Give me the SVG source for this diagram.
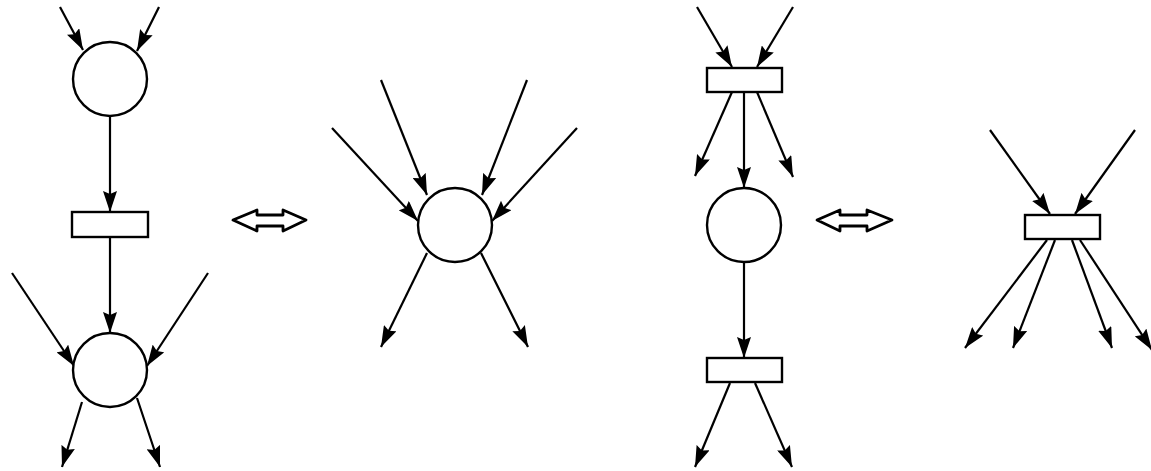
<svg xmlns="http://www.w3.org/2000/svg" width="1151" height="471" viewBox="0 0 1151 471">
<style>
.node{fill:#fff;stroke:#000;stroke-width:2.4}
.edge{stroke:#000;stroke-width:2.2;fill:none;marker-end:url(#ah)}
.dbl{fill:#fff;stroke:#000;stroke-width:2.8;stroke-linejoin:round}
</style>
<defs>
<marker id="ah" markerUnits="userSpaceOnUse" markerWidth="21" markerHeight="14" refX="21" refY="7" orient="auto">
<path d="M0,0 L21,7 L0,14 L3,7 Z" fill="#000"/>
</marker>
</defs>
<rect width="1151" height="471" fill="#fff"/>
<g id="connectors">
<line class="edge" x1="60" y1="7" x2="83" y2="50"/>
<line class="edge" x1="159" y1="7" x2="137" y2="51"/>
<line class="edge" x1="110" y1="116" x2="110" y2="212"/>
<line class="edge" x1="110" y1="237" x2="110" y2="333"/>
<line class="edge" x1="12" y1="273" x2="74" y2="366"/>
<line class="edge" x1="208" y1="273" x2="147" y2="366"/>
<line class="edge" x1="82" y1="402" x2="62" y2="467"/>
<line class="edge" x1="137" y1="398" x2="160" y2="467"/>
<line class="edge" x1="332" y1="128" x2="418" y2="221"/>
<line class="edge" x1="381" y1="80" x2="427" y2="195"/>
<line class="edge" x1="527" y1="80" x2="482" y2="195"/>
<line class="edge" x1="577" y1="128" x2="492" y2="221"/>
<line class="edge" x1="427" y1="253" x2="381" y2="347"/>
<line class="edge" x1="481" y1="253" x2="528" y2="347"/>
<line class="edge" x1="697" y1="7" x2="732" y2="67"/>
<line class="edge" x1="793" y1="7" x2="757" y2="67"/>
<line class="edge" x1="732" y1="92" x2="695" y2="176"/>
<line class="edge" x1="744" y1="92" x2="744" y2="188"/>
<line class="edge" x1="757" y1="92" x2="793" y2="177"/>
<line class="edge" x1="744" y1="262" x2="744" y2="358"/>
<line class="edge" x1="730" y1="383" x2="695" y2="467"/>
<line class="edge" x1="755" y1="383" x2="792" y2="467"/>
<line class="edge" x1="990" y1="130" x2="1050" y2="214"/>
<line class="edge" x1="1135" y1="130" x2="1075" y2="214"/>
<line class="edge" x1="1047" y1="240" x2="965" y2="348"/>
<line class="edge" x1="1055" y1="240" x2="1013" y2="348"/>
<line class="edge" x1="1072" y1="240" x2="1112" y2="348"/>
<line class="edge" x1="1080" y1="240" x2="1152" y2="350"/>
</g>
<g id="p1"><circle class="node" cx="110" cy="79" r="37"/></g>
<g id="t1"><rect class="node" x="72" y="212" width="76" height="25"/></g>
<g id="p2"><circle class="node" cx="110" cy="370" r="37"/></g>
<g id="eq1"><polygon class="dbl" points="233,220 257,210 257,215 283,215 283,210 306,220 283,231 283,226 257,226 257,231"/></g>
<g id="p3"><circle class="node" cx="455" cy="225" r="37"/></g>
<g id="t2"><rect class="node" x="707" y="68" width="75" height="24"/></g>
<g id="p4"><circle class="node" cx="744" cy="225" r="37"/></g>
<g id="t3"><rect class="node" x="707" y="358" width="75" height="24"/></g>
<g id="eq2"><polygon class="dbl" points="817,220 840,210 840,215 867,215 867,210 892,220 867,231 867,226 840,226 840,231"/></g>
<g id="t4"><rect class="node" x="1025" y="215" width="75" height="24"/></g>
</svg>
